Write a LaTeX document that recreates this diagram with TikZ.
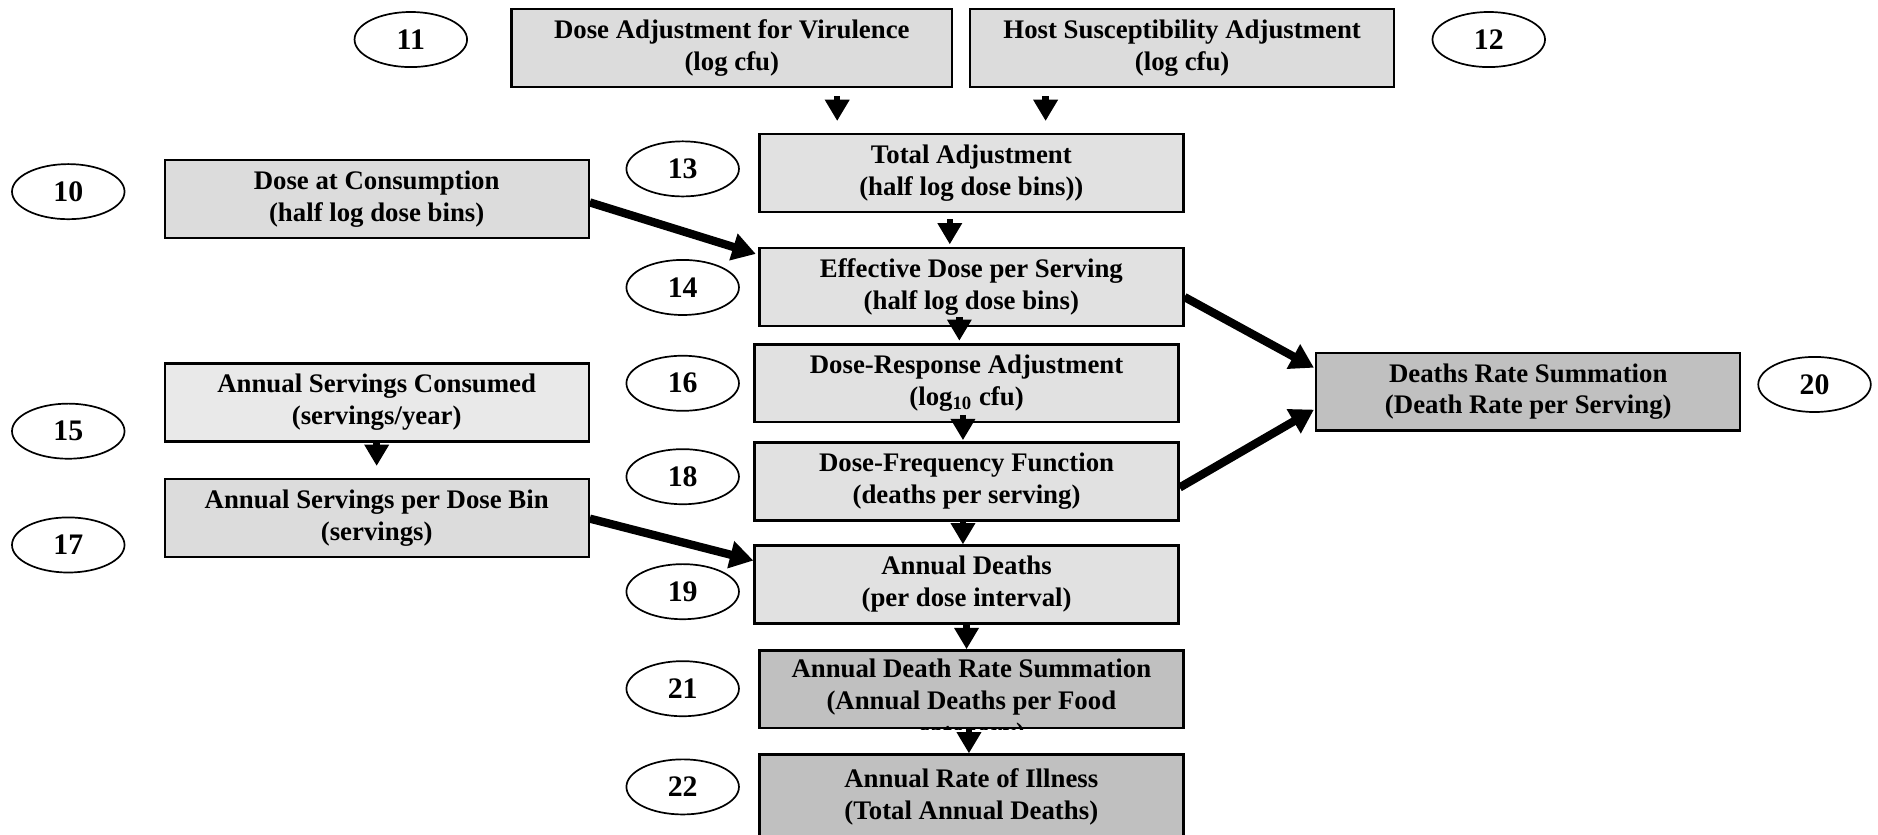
\documentclass[tikz,border=0pt]{standalone}
\usepackage{fontspec}
\setmainfont{Liberation Serif}
\usetikzlibrary{shapes.geometric,arrows.meta}
\definecolor{stagegray}{HTML}{DCDCDC}
\definecolor{palegray}{HTML}{E9E9E9}
\definecolor{sumgray}{HTML}{C0C0C0}
\begin{document}
\begin{tikzpicture}[x=0.563pt,y=-0.563pt,
  font=\fontsize{12.6}{15}\selectfont\bfseries,
  flowbox/.style={draw=black,line width=1.1pt,fill=stagegray,minimum width=199.3pt,minimum height=36.6pt,align=center,inner sep=0pt},
  sumbox/.style={flowbox,fill=sumgray},
  numoval/.style={draw=black,line width=0.8pt,ellipse,minimum width=52.9pt,minimum height=25.9pt,inner sep=0pt,font=\fontsize{14}{16}\selectfont\bfseries},
  arr/.style={line width=3pt,-{Triangle[length=10pt,width=11pt]}},
  bigarr/.style={line width=3.9pt,-{Triangle[length=11pt,width=12.5pt]}}]
\useasboundingbox (0,0) rectangle (1568,697);
% the numbered ovals
\foreach \n/\x/\y in {10/57/160, 11/343/33, 12/1243/33, 13/570/141, 14/570/240, 15/57/360, 16/570/320,
  17/57/455, 18/570/398, 19/570/494, 20/1515/321, 21/570/575, 22/570/657}
  \node[numoval] (e\n) at (\x,\y) {\n};
% the stages
\node[flowbox,minimum width=207.2pt] (n11) at (611,40) {Dose Adjustment for Virulence\\(log cfu)};
\node[flowbox] (n12) at (987,40) {Host Susceptibility Adjustment\\(log cfu)};
\node[flowbox,fill=stagegray!85!white] (n13) at (811,144.5) {Total Adjustment\\(half log dose bins))};
\node[flowbox] (n10) at (314.5,166) {Dose at Consumption\\(half log dose bins)};
\node[flowbox,fill=stagegray!85!white] (n14) at (811,239.5) {Effective Dose per Serving\\(half log dose bins)};
\node[sumbox] (n20) at (1276,327) {Deaths Rate Summation\\(Death Rate per Serving)};
\node[flowbox,fill=stagegray!85!white] (n16) at (807,320) {Dose-Response Adjustment\\(log\textsubscript{10} cfu)};
\node[flowbox,fill=palegray] (n15) at (314.5,336) {Annual Servings Consumed\\(servings/year)};
\node[flowbox] (n17) at (314.5,432.5) {Annual Servings per Dose Bin\\(servings)};
\node[flowbox,fill=stagegray!85!white] (n18) at (807,402) {Dose-Frequency Function\\(deaths per serving)};
\node[flowbox,fill=stagegray!85!white] (n19) at (807,488) {Annual Deaths\\(per dose interval)};
\node[sumbox] (n21) at (811,575.5) {};
\begin{scope}
  \clip (n21.south west) rectangle (n21.north east);
  \node[align=center,inner sep=0pt] (t21) at (811,587) {Annual Death Rate Summation\\(Annual Deaths per Food\\category)};
\end{scope}
\node[sumbox,minimum height=39.4pt] (n22) at (811,665) {Annual Rate of Illness\\(Total Annual Deaths)};
% short arrows
\draw[arr] ([shift={(88,7)}]n11.south) -- ([shift={(-112,-10)}]n13.north);
\draw[arr] ([shift={(-114,7)}]n12.south) -- ([shift={(62,-10)}]n13.north);
\draw[arr] ([shift={(-18,5)}]n13.south) -- ([shift={(-18,-2)}]n14.north);
\draw[arr] ([shift={(-10,-8)}]n14.south) -- ([shift={(-6,-2)}]n16.north);
\draw[arr] (n15.south) -- ([shift={(0,-10)}]n17.north);
\draw[arr] ([shift={(-3,-7)}]n16.south) -- ([shift={(-3,-1)}]n18.north);
\draw[arr] ([shift={(-3,0)}]n18.south) -- ([shift={(-3,0)}]n19.north);
\draw[arr] (n19.south) -- ([shift={(-4,0)}]n21.north);
\draw[arr] ([shift={(-2,0)}]n21.south) -- ([shift={(-2,0)}]n22.north);
% long arrows
\draw[bigarr] ([shift={(0,3)}]n10.east) -- ([shift={(-2,-27.5)}]n14.west);
\draw[bigarr] ([shift={(0,8.5)}]n14.east) -- ([shift={(-1,-20)}]n20.west);
\draw[bigarr] ([shift={(0,5)}]n18.east) -- ([shift={(-1,15)}]n20.west);
\draw[bigarr] ([shift={(0,0.5)}]n17.east) -- ([shift={(0,-20)}]n19.west);
\end{tikzpicture}
\end{document}
